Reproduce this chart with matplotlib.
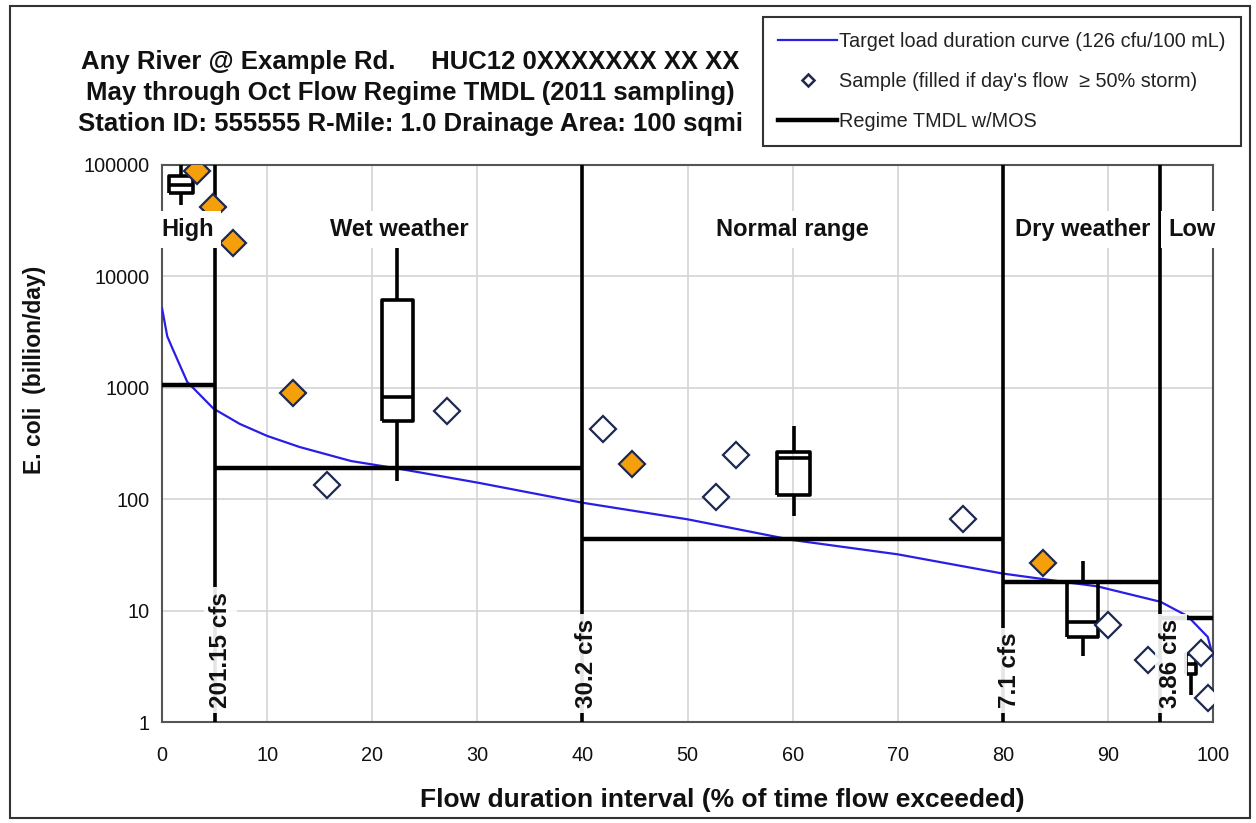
import matplotlib
matplotlib.use('Agg')
import matplotlib.pyplot as plt
from matplotlib import font_manager
from matplotlib.lines import Line2D
from matplotlib.patches import Rectangle
import matplotlib.transforms as mtransforms

# ---------------- data ----------------
curve_x = [0, 0.5, 1, 2.4, 4.9, 7.4, 10, 13.1, 18, 22.5, 30, 40, 50, 60, 70, 80, 86, 89, 95, 97.6, 99.5, 100]
curve_y = [5200, 2900, 2250, 1130, 650, 474, 370, 294, 220, 188, 141, 93, 66, 43, 32, 21.5, 18, 16.5, 12, 8.9, 5.8, 3.9]

samp_x = [3.3, 4.9, 6.8, 12.5, 15.7, 27.1, 42.0, 44.7, 52.7, 54.6, 76.2, 83.8, 90.0, 93.8, 98.9, 99.5]
samp_y = [88000, 42000, 20000, 900, 135, 620, 430, 205, 105, 250, 66, 27, 7.4, 3.6, 4.2, 1.65]
storm = [1, 1, 1, 1, 0, 0, 0, 1, 0, 0, 0, 1, 0, 0, 0, 0]

box_x = [1.8, 22.4, 60.1, 87.6, 97.9]
box_w = [2.3, 3.0, 3.1, 3.0, 1.0]
box_whislo = [44000, 145, 70, 3.9, 1.75]
box_q1 = [56000, 500, 109, 5.8, 2.7]
box_med = [66000, 830, 233, 7.9, 3.3]
box_q3 = [80000, 6100, 265, 18, 4.1]
box_whishi = [100000, 18700, 455, 27.6, 4.3]

tmdl_edges = [0, 5, 40, 80, 95, 100]
tmdl_vals = [1065, 190, 43.7, 18.2, 8.5]

bounds = [5, 40, 80, 95]
cfs_labels = ["201.15 cfs", "30.2 cfs", "7.1 cfs", "3.86 cfs"]
cfs_label_x = [5.6, 40.4, 80.6, 96.0]

regimes = ["High", "Wet weather", "Normal range", "Dry weather", "Low"]
regime_x = [2.4, 22.6, 60.0, 87.6, 98.0]
regime_y = 26500

title_lines = ["Any River @ Example Rd.     HUC12 0XXXXXXX XX XX",
               "May through Oct Flow Regime TMDL (2011 sampling)",
               "Station ID: 555555 R-Mile: 1.0 Drainage Area: 100 sqmi"]

xticks = [0, 10, 20, 30, 40, 50, 60, 70, 80, 90, 100]
yticks = [1, 10, 100, 1000, 10000, 100000]
ytick_labels = ["1", "10", "100", "1000", "10000", "100000"]

legend_labels = ["Target load duration curve (126 cfu/100 mL)",
                 "Sample (filled if day's flow  \u2265 50% storm)",
                 "Regime TMDL w/MOS"]

# ---------------- fonts ----------------
def has_font(name):
    try:
        font_manager.findfont(font_manager.FontProperties(family=name), fallback_to_default=False)
        return True
    except Exception:
        return False

base = 'Liberation Sans' if has_font('Liberation Sans') else 'DejaVu Sans'
plt.rcParams['font.family'] = [base, 'DejaVu Sans']

# ---------------- figure ----------------
fig = plt.figure(figsize=(12.56, 8.23), dpi=100)
ax = fig.add_axes([162/1256, 1 - 722/823, (1213 - 162)/1256, (722 - 165)/823])

ax.set_yscale('log')
ax.set_xlim(0, 100)
ax.set_ylim(1, 100000)
ax.set_xticks(xticks)
ax.set_xticklabels([str(t) for t in xticks])
ax.set_yticks(yticks)
ax.set_yticklabels(ytick_labels)
ax.yaxis.set_minor_locator(matplotlib.ticker.NullLocator())
ax.tick_params(axis='both', length=0, labelsize=14.3, colors='#111111')
ax.tick_params(axis='x', pad=17)
ax.tick_params(axis='y', pad=9)
ax.grid(True, color='#d4d4d4', lw=1.2, zorder=0)
ax.set_axisbelow(True)
for s in ax.spines.values():
    s.set_color('#555555')
    s.set_linewidth(1.5)

# target curve
ax.plot(curve_x, curve_y, color='#2a1ee6', lw=1.6, zorder=3)

# TMDL lines
for i, v in enumerate(tmdl_vals):
    ax.plot([tmdl_edges[i], tmdl_edges[i + 1]], [v, v], color='black', lw=3.2,
            solid_capstyle='butt', zorder=4)

# regime boundaries
for b in bounds:
    ax.axvline(b, color='black', lw=2.6, zorder=4)

# boxes
stats = []
for i in range(len(box_x)):
    stats.append(dict(whislo=box_whislo[i], q1=box_q1[i], med=box_med[i],
                      q3=box_q3[i], whishi=box_whishi[i], fliers=[]))
lp = dict(color='black', linewidth=2.6, solid_joinstyle='round', solid_capstyle='butt')
ax.bxp(stats, positions=box_x, widths=box_w, showcaps=False, showfliers=False,
       boxprops=lp, whiskerprops=lp, medianprops=lp, manage_ticks=False, zorder=5)

# samples
for x, y, f in zip(samp_x, samp_y, storm):
    ax.plot([x], [y], marker='D', ms=13, mew=1.6, mec='#1c2850',
            mfc='#f5a00a' if f else 'white', ls='none', zorder=6)

# region labels
for name, x in zip(regimes, regime_x):
    ax.text(x, regime_y, name, ha='center', va='center', fontsize=17,
            fontweight='bold', color='#111111', zorder=7,
            bbox=dict(boxstyle='square,pad=0.3', fc='white', ec='none'))

# cfs labels
trans = mtransforms.blended_transform_factory(ax.transData, ax.transAxes)
for lab, x in zip(cfs_labels, cfs_label_x):
    ax.text(x, 0.025, lab, rotation=90, ha='center', va='bottom', transform=trans,
            fontsize=17.5, fontweight='bold', color='#111111', zorder=7,
            bbox=dict(boxstyle='square,pad=0.2', fc='white', ec='none', alpha=0.9))

# titles
for i, line in enumerate(title_lines):
    fig.text(410/1256, 1 - (62 + 31*i)/823, line, ha='center', va='center',
             fontsize=18.5, fontweight='bold', color='#111111')

fig.text(35/1256, 1 - 370/823, "E. coli  (billion/day)", rotation=90, ha='center',
         va='center', fontsize=16.5, fontweight='bold', color='#111111')
fig.text(722/1256, 1 - 800/823, "Flow duration interval (% of time flow exceeded)",
         ha='center', va='center', fontsize=19, fontweight='bold', color='#111111')

# legend
handles = [Line2D([], [], color='#2a1ee6', lw=1.6),
           Line2D([], [], marker='D', ms=6, mew=1.8, mec='#1c2850', mfc='white', ls='none'),
           Line2D([], [], color='black', lw=3.2)]
leg = fig.legend(handles, legend_labels, loc='upper left',
                 bbox_to_anchor=(763/1256, 1 - 17/823), fontsize=14.3,
                 frameon=True, fancybox=False, handlelength=3.0, handletextpad=0.1,
                 labelspacing=1.05, borderpad=0.75, borderaxespad=0)
leg.get_frame().set_edgecolor('black')
leg.get_frame().set_linewidth(1.5)
for t in leg.get_texts():
    t.set_color('#222222')

# figure border
fig.patches.append(Rectangle((10/1256, 5/823), 1240/1256, 812/823, transform=fig.transFigure,
                             fill=False, ec='#333333', lw=1.5))

fig.savefig('out.png', dpi=100)
